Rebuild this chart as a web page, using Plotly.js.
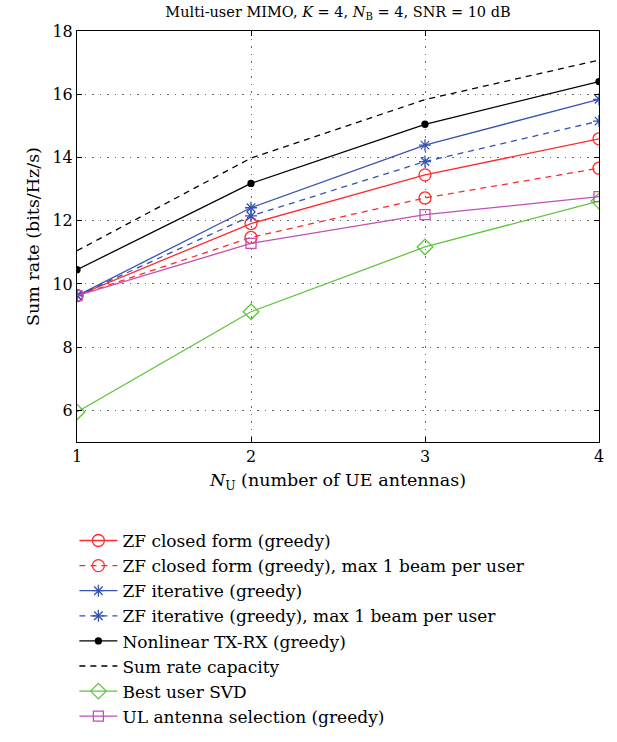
<!DOCTYPE html>
<html>
<head>
<meta charset="utf-8">
<script src="https://cdn.plot.ly/plotly-3.0.1.min.js"></script>
<style>html,body{margin:0;padding:0;background:#fff;}</style>
</head>
<body>
<div id="chart" style="width:617px;height:742px;"></div>
<script>
const nU = [1, 2, 3, 4];
const zfClosed = [9.63, 11.91, 13.45, 14.59];
const zfClosed1 = [9.63, 11.47, 12.72, 13.66];
const zfIter = [9.63, 12.41, 14.39, 15.84];
const zfIter1 = [9.63, 12.15, 13.87, 15.15];
const nonlinear = [10.45, 13.18, 15.05, 16.40];
const capacity = [11.05, 13.98, 15.83, 17.08];
const bestSVD = [5.95, 9.12, 11.17, 12.62];
const ulSel = [9.63, 11.28, 12.19, 12.76];

const names = [
  "ZF closed form (greedy)",
  "ZF closed form (greedy), max 1 beam per user",
  "ZF iterative (greedy)",
  "ZF iterative (greedy), max 1 beam per user",
  "Nonlinear TX-RX (greedy)",
  "Sum rate capacity",
  "Best user SVD",
  "UL antenna selection (greedy)"
];
const yTicks = [6, 8, 10, 12, 14, 16, 18];

const red = "#ff2a2a", blue = "#3553b0", black = "#000000", green = "#5fc53b", mag = "#c24fb5";

function tr(y, name, color, dash, sym, size) {
  const t = {
    x: nU, y: y, name: name, type: "scatter",
    mode: sym ? "lines+markers" : "lines",
    line: {color: color, width: 1.3, dash: dash}
  };
  if (sym) t.marker = {symbol: sym, size: size, color: color, line: {color: color, width: 1.3}};
  return t;
}

const data = [
  tr(zfClosed, names[0], red, "solid", "circle-open", 12),
  tr(zfClosed1, names[1], red, "6px,5px", "circle-open", 12),
  tr(zfIter, names[2], blue, "solid", "asterisk-open", 10),
  tr(zfIter1, names[3], blue, "6px,5px", "asterisk-open", 10),
  tr(nonlinear, names[4], black, "solid", "circle", 6),
  tr(capacity, names[5], black, "6px,5px", null, 0),
  tr(bestSVD, names[6], green, "solid", "diamond-open", 12),
  tr(ulSel, names[7], mag, "solid", "square-open", 10)
];

const fontFam = "DejaVu Serif";
const layout = {
  width: 617, height: 742,
  margin: {l: 77, r: 18, t: 31, b: 300, autoexpand: false},
  paper_bgcolor: "#fff", plot_bgcolor: "#fff",
  font: {family: fontFam, size: 15, color: "#000"},
  title: {
    text: "Multi-user MIMO, <i>K</i> = 4, <i>N</i><sub>B</sub> = 4, SNR = 10 dB",
    font: {family: fontFam, size: 14.5, color: "#000"},
    x: 0.5, xanchor: "center", xref: "paper",
    y: 1 - 12/742, yanchor: "middle", yref: "container"
  },
  xaxis: {
    range: [1, 4], tickvals: nU, ticktext: nU.map(String),
    showline: true, linecolor: "#000", linewidth: 1, mirror: "ticks",
    ticks: "inside", ticklen: 5, tickcolor: "#000",
    showgrid: true, gridcolor: "#666", griddash: "1.5px,6px", gridwidth: 1,
    zeroline: false,
    tickfont: {family: fontFam, size: 16},
    title: {text: "<i>N</i><sub>U</sub> (number of UE antennas)", font: {family: fontFam, size: 17.5}, standoff: 8}
  },
  yaxis: {
    range: [5, 18], tickvals: yTicks, ticktext: yTicks.map(String),
    showline: true, linecolor: "#000", linewidth: 1, mirror: "ticks",
    ticks: "inside", ticklen: 5, tickcolor: "#000",
    showgrid: true, gridcolor: "#666", griddash: "1.5px,6px", gridwidth: 1,
    zeroline: false,
    tickfont: {family: fontFam, size: 16},
    title: {text: "Sum rate (bits/Hz/s)", font: {family: fontFam, size: 17.5}, standoff: 8}
  },
  showlegend: true,
  legend: {
    x: -0.005, xanchor: "left", y: -0.197, yanchor: "top",
    font: {family: fontFam, size: 17, color: "#000"},
    bgcolor: "rgba(0,0,0,0)", borderwidth: 0,
    itemwidth: 38, tracegroupgap: 0
  }
};

Plotly.newPlot("chart", data, layout, {displayModeBar: false, staticPlot: true});
</script>
</body>
</html>
